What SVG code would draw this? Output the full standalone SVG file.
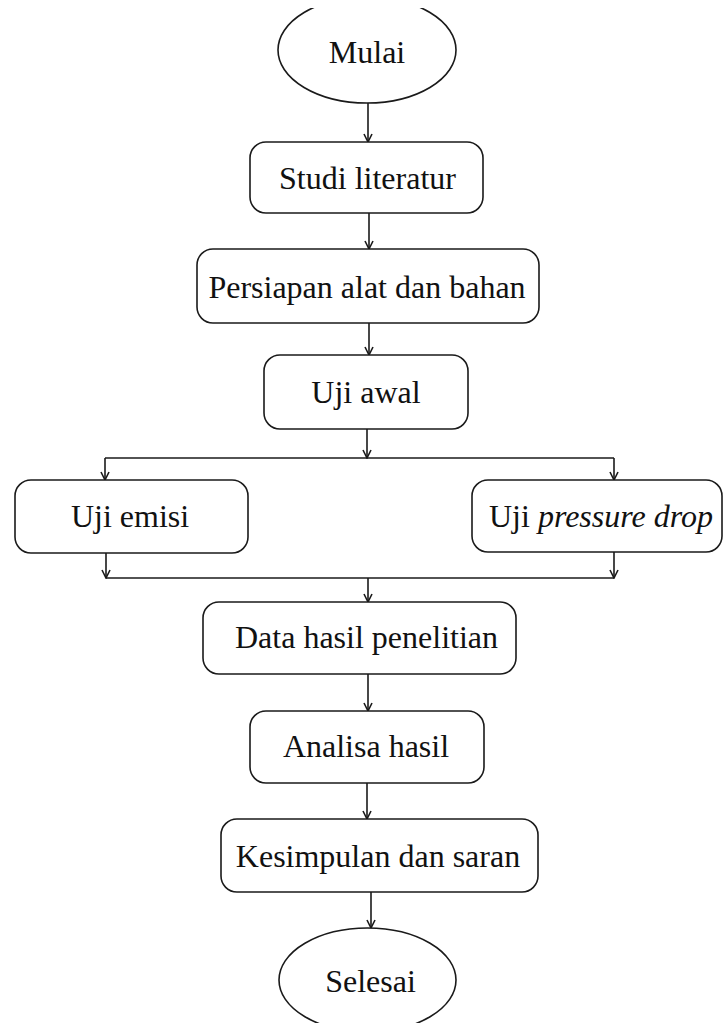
<svg xmlns="http://www.w3.org/2000/svg" width="723" height="1023" viewBox="0 0 723 1023">
<defs>
<style>
.n{fill:#fff;stroke:#1a1a1a;stroke-width:1.6}
.t{font-family:"Liberation Serif","Times New Roman",serif;font-size:32px;fill:#111;text-anchor:middle}
.c{fill:none;stroke:#1a1a1a;stroke-width:1.6}
</style>
<marker id="ah" markerUnits="userSpaceOnUse" markerWidth="12" markerHeight="12" viewBox="0 0 12 12" refX="11" refY="6" orient="auto">
<path d="M3,2 L11,6 L3,10" fill="none" stroke="#1a1a1a" stroke-width="1.6"/>
</marker>
<clipPath id="topclip"><rect x="0" y="8" width="723" height="1015"/></clipPath>
</defs>
<rect width="723" height="1023" fill="#fff"/>
<g id="connectors">
<line class="c" x1="368" y1="103" x2="368" y2="142" marker-end="url(#ah)"/>
<line class="c" x1="369" y1="213" x2="369" y2="249" marker-end="url(#ah)"/>
<line class="c" x1="369" y1="323" x2="369" y2="355" marker-end="url(#ah)"/>
<line class="c" x1="367" y1="429" x2="367" y2="458" marker-end="url(#ah)"/>
<path class="c" d="M105,458 L614,458"/>
<line class="c" x1="105" y1="458" x2="105" y2="480" marker-end="url(#ah)"/>
<line class="c" x1="614" y1="458" x2="614" y2="480" marker-end="url(#ah)"/>
<line class="c" x1="106" y1="553" x2="106" y2="578" marker-end="url(#ah)"/>
<line class="c" x1="614" y1="552" x2="614" y2="578" marker-end="url(#ah)"/>
<path class="c" d="M106,578 L614,578"/>
<line class="c" x1="368" y1="578" x2="368" y2="602" marker-end="url(#ah)"/>
<line class="c" x1="368" y1="674" x2="368" y2="711" marker-end="url(#ah)"/>
<line class="c" x1="367" y1="783" x2="367" y2="819" marker-end="url(#ah)"/>
<line class="c" x1="371" y1="892" x2="371" y2="928" marker-end="url(#ah)"/>
</g>
<g id="mulai">
<ellipse class="n" cx="367" cy="50" rx="89" ry="53" clip-path="url(#topclip)"/>
<text class="t" x="367" y="63">Mulai</text>
</g>
<g id="studi">
<rect class="n" x="250" y="142" width="233" height="71" rx="16"/>
<text class="t" x="367.5" y="189">Studi literatur</text>
</g>
<g id="persiapan">
<rect class="n" x="197" y="249" width="342" height="74" rx="16"/>
<text class="t" x="367" y="298">Persiapan alat dan bahan</text>
</g>
<g id="ujiawal">
<rect class="n" x="264" y="355" width="204" height="74" rx="16"/>
<text class="t" x="366" y="403">Uji awal</text>
</g>
<g id="ujiemisi">
<rect class="n" x="15" y="480" width="233" height="73" rx="16"/>
<text class="t" x="130" y="527">Uji emisi</text>
</g>
<g id="ujipressure">
<rect class="n" x="472" y="480" width="250" height="72" rx="16"/>
<text class="t" x="601" y="527">Uji <tspan font-style="italic">pressure drop</tspan></text>
</g>
<g id="data">
<rect class="n" x="203" y="602" width="313" height="72" rx="16"/>
<text class="t" x="366.5" y="648">Data hasil penelitian</text>
</g>
<g id="analisa">
<rect class="n" x="250" y="711" width="234" height="72" rx="16"/>
<text class="t" x="366" y="757">Analisa hasil</text>
</g>
<g id="kesimpulan">
<rect class="n" x="221" y="819" width="317" height="73" rx="16"/>
<text class="t" x="378" y="867">Kesimpulan dan saran</text>
</g>
<g id="selesai">
<ellipse class="n" cx="367.5" cy="980" rx="88.5" ry="52"/>
<text class="t" x="370.5" y="992">Selesai</text>
</g>
</svg>
